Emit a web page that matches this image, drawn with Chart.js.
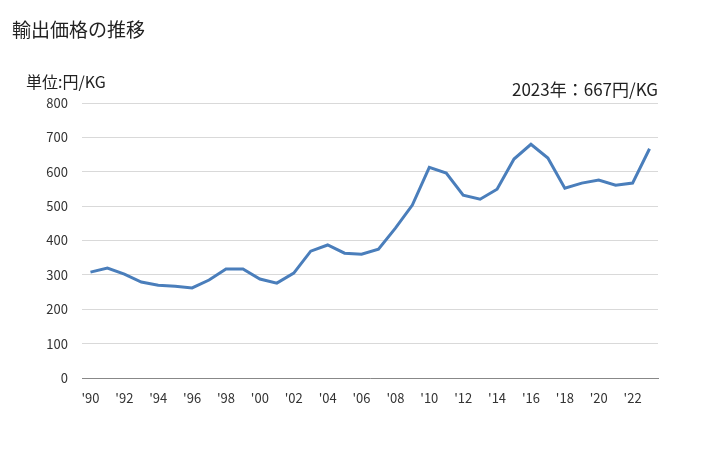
<!DOCTYPE html>
<html>
<head>
<meta charset="utf-8">
<script src="https://cdn.jsdelivr.net/npm/chart.js@4"></script>
<style>
  body { margin: 0; background: #fff; font-family: "Noto Sans CJK JP", sans-serif; }
  #wrap { position: relative; width: 728px; height: 450px; }
  #title { position: absolute; left: 12px; top: 15px; font-size: 19px; color: #222; }
  #unit { position: absolute; left: 26px; top: 69px; font-size: 16px; color: #222; }
  #latest { position: absolute; right: 70px; top: 76px; font-size: 17px; color: #222; }
  canvas { position: absolute; left: 0; top: 0; }
</style>
</head>
<body>
<div id="wrap">
  <canvas id="chart" width="728" height="450"></canvas>
  <div id="title">輸出価格の推移</div>
  <div id="unit">単位:円/KG</div>
  <div id="latest">2023年：667円/KG</div>
</div>
<script>
const years = [1990, 1991, 1992, 1993, 1994, 1995, 1996, 1997, 1998, 1999,
  2000, 2001, 2002, 2003, 2004, 2005, 2006, 2007, 2008, 2009,
  2010, 2011, 2012, 2013, 2014, 2015, 2016, 2017, 2018, 2019,
  2020, 2021, 2022, 2023];
const prices = [308, 320, 302, 279, 270, 267, 262, 285, 317, 317,
  288, 276, 305, 369, 387, 363, 360, 375, 436, 503,
  613, 596, 532, 520, 549, 637, 680, 640, 552, 567,
  576, 561, 567, 667];
const yTicks = [0, 100, 200, 300, 400, 500, 600, 700, 800];

const labels = years.map(y => "'" + String(y).slice(2));

new Chart(document.getElementById('chart'), {
  type: 'line',
  data: {
    labels: labels,
    datasets: [{
      data: prices,
      borderColor: '#4a7ebb',
      borderWidth: 3,
      pointRadius: 0,
      tension: 0,
      fill: false
    }]
  },
  options: {
    responsive: false,
    animation: false,
    layout: { padding: { top: 103, right: 70, left: 0, bottom: 0 } },
    plugins: { legend: { display: false }, tooltip: { enabled: false } },
    scales: {
      x: {
        offset: true,
        grid: { display: false, drawTicks: false },
        border: { color: '#888', width: 1 },
        afterFit: s => { s.height = 72; },
        ticks: {
          autoSkip: false,
          maxRotation: 0,
          color: '#333',
          padding: 12,
          font: { size: 13, family: '"Noto Sans CJK JP", sans-serif' },
          callback: (v, i) => (i % 2 === 0 ? labels[i] : '')
        }
      },
      y: {
        min: 0,
        max: 800,
        afterFit: s => { s.width = 82; },
        afterBuildTicks: s => { s.ticks = yTicks.map(v => ({ value: v })); },
        grid: { color: '#d9d9d9', drawTicks: false },
        border: { display: false },
        ticks: {
          color: '#333',
          padding: 14,
          font: { size: 13, family: '"Noto Sans CJK JP", sans-serif' }
        }
      }
    }
  }
});
</script>
</body>
</html>
